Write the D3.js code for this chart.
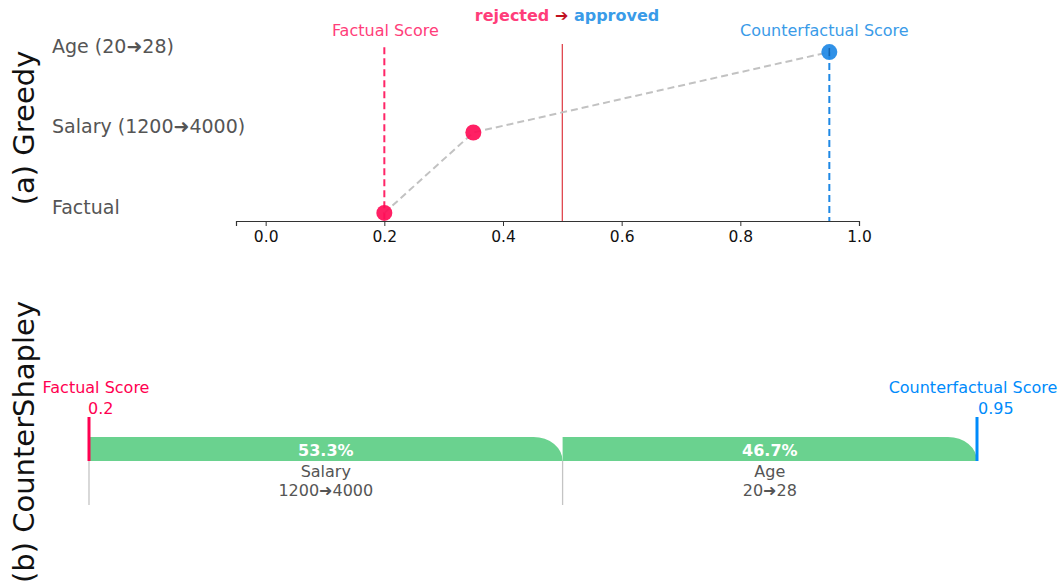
<!DOCTYPE html>
<html><head><meta charset="utf-8">
<script src="https://cdn.jsdelivr.net/npm/d3@7"></script>
<style>body{margin:0;background:#fff}text{font-family:"DejaVu Sans",sans-serif}</style>
</head><body>
<svg id="c" width="1059" height="585"></svg>
<script>
// Greedy path data
const greedySteps = ["Factual", "Salary (1200\u279C4000)", "Age (20\u279C28)"];
const greedyScores = [0.2, 0.35, 0.95];
const xTicks = [0.0, 0.2, 0.4, 0.6, 0.8, 1.0];
const threshold = 0.5;
const factualScore = 0.2;
const counterfactualScore = 0.95;
// CounterShapley data
const shapFeatures = ["Salary", "Age"];
const shapChanges = ["1200\u279C4000", "20\u279C28"];
const shapValues = [0.4, 0.35];
const shapPercents = ["53.3%", "46.7%"];

const svg = d3.select("#c");
const pink = "#ff0d57", blue = "#1e88e5", green = "#6ad28f";

// ---------- Panel (a) ----------
const x = d3.scaleLinear().domain([-0.05, 1.0]).range([236, 859]);
const y = d3.scaleLinear().domain([-0.1, 2.1]).range([221, 44]);

svg.append("text").attr("transform", "translate(34,128) rotate(-90)")
  .attr("text-anchor", "middle").attr("font-size", 29).attr("fill", "#111").text("(a) Greedy");

const ax = svg.append("g").attr("transform", "translate(0,221)")
  .call(d3.axisBottom(x).tickValues(xTicks).tickFormat(d3.format(".1f")).tickSize(5).tickPadding(5));
ax.select(".domain").attr("stroke", "#333").attr("stroke-width", 1.2);
ax.selectAll(".tick line").attr("stroke", "#333");
ax.selectAll("text").attr("font-size", 15.5).attr("fill", "#111").attr("font-family", "DejaVu Sans");

greedySteps.forEach((s, i) => {
  svg.append("text").attr("x", 52).attr("y", y(i) - 6).attr("dy", "0.35em")
    .attr("font-size", 19).attr("fill", "#555").text(s);
});

// threshold
svg.append("line").attr("x1", x(threshold)).attr("x2", x(threshold))
  .attr("y1", y(2.1)).attr("y2", y(-0.1)).attr("stroke", "#e0474f").attr("stroke-width", 1.3);

// factual dashed
svg.append("line").attr("x1", x(factualScore)).attr("x2", x(factualScore))
  .attr("y1", y(2.06)).attr("y2", y(-0.1)).attr("stroke", pink).attr("stroke-opacity", 0.9)
  .attr("stroke-width", 2).attr("stroke-dasharray", "7,4");
// counterfactual dashed
svg.append("line").attr("x1", x(counterfactualScore)).attr("x2", x(counterfactualScore))
  .attr("y1", y(2)).attr("y2", y(-0.1)).attr("stroke", blue)
  .attr("stroke-width", 2).attr("stroke-dasharray", "7,4");

// path
const line = d3.line().x(d => x(d[0])).y(d => y(d[1]));
svg.append("path").datum(greedyScores.map((v, i) => [v, i])).attr("d", line)
  .attr("fill", "none").attr("stroke", "#c2c2c2").attr("stroke-width", 2).attr("stroke-dasharray", "7,4");

greedyScores.forEach((v, i) => {
  svg.append("circle").attr("cx", x(v)).attr("cy", y(i)).attr("r", 8)
    .attr("fill", v >= threshold ? blue : pink).attr("fill-opacity", 0.92);
});
svg.append("line").attr("x1", x(counterfactualScore)).attr("x2", x(counterfactualScore))
  .attr("y1", y(2) - 4).attr("y2", y(2) + 4).attr("stroke", "#1565b0").attr("stroke-width", 1.5);

svg.append("text").attr("x", x(factualScore) + 1).attr("y", 30).attr("dy", "0.35em")
  .attr("text-anchor", "middle").attr("font-size", 16).attr("fill", "#ff3d7a").text("Factual Score");
svg.append("text").attr("x", x(counterfactualScore) - 5).attr("y", 30).attr("dy", "0.35em")
  .attr("text-anchor", "middle").attr("font-size", 16).attr("fill", "#3a9be8").text("Counterfactual Score");

const title = svg.append("text").attr("x", 567).attr("y", 15).attr("dy", "0.35em")
  .attr("text-anchor", "middle").attr("font-size", 16).attr("font-weight", "bold");
title.append("tspan").attr("fill", "#ff3d7a").text("rejected ");
title.append("tspan").attr("fill", "#c0101e").text("\u2794 ");
title.append("tspan").attr("fill", "#3a9be8").text("approved");

// ---------- Panel (b) ----------
const xb = d3.scaleLinear().domain([factualScore, counterfactualScore]).range([89, 977]);
const barTop = 437, barH = 24, barBot = barTop + barH;

svg.append("text").attr("transform", "translate(34,442) rotate(-90)")
  .attr("text-anchor", "middle").attr("font-size", 29).attr("fill", "#111").text("(b) CounterShapley");

let cum = factualScore;
shapValues.forEach((v, i) => {
  const x0 = xb(cum), x1 = xb(cum + v);
  const rx = 29, ry = barH;
  const p = `M${x0},${barTop} L${x1 - rx},${barTop} A${rx},${ry} 0 0 1 ${x1},${barBot} L${x0},${barBot} Z`;
  svg.append("path").attr("d", p).attr("fill", green);
  const cx = (x0 + x1) / 2;
  svg.append("text").attr("x", cx).attr("y", barTop + barH / 2 + 1).attr("dy", "0.35em")
    .attr("text-anchor", "middle").attr("font-size", 16).attr("font-weight", "bold")
    .attr("fill", "#fff").text(shapPercents[i]);
  svg.append("text").attr("x", cx).attr("y", 471).attr("dy", "0.35em")
    .attr("text-anchor", "middle").attr("font-size", 16).attr("fill", "#555").text(shapFeatures[i]);
  svg.append("text").attr("x", cx).attr("y", 490).attr("dy", "0.35em")
    .attr("text-anchor", "middle").attr("font-size", 16).attr("fill", "#555").text(shapChanges[i]);
  svg.append("line").attr("x1", x0).attr("x2", x0).attr("y1", barBot).attr("y2", 505)
    .attr("stroke", "#c4c4c4").attr("stroke-width", 1.3);
  cum += v;
});

svg.append("line").attr("x1", xb(factualScore)).attr("x2", xb(factualScore))
  .attr("y1", 417).attr("y2", barBot).attr("stroke", "#ff0051").attr("stroke-width", 3);
svg.append("line").attr("x1", xb(counterfactualScore)).attr("x2", xb(counterfactualScore))
  .attr("y1", 417).attr("y2", barBot).attr("stroke", "#008bfb").attr("stroke-width", 3);

svg.append("text").attr("x", 96).attr("y", 387).attr("dy", "0.35em").attr("text-anchor", "middle")
  .attr("font-size", 16).attr("fill", "#ff0051").text("Factual Score");
svg.append("text").attr("x", 88).attr("y", 408).attr("dy", "0.35em")
  .attr("font-size", 16).attr("fill", "#ff0051").text(String(factualScore));
svg.append("text").attr("x", 973).attr("y", 387).attr("dy", "0.35em").attr("text-anchor", "middle")
  .attr("font-size", 16).attr("fill", "#008bfb").text("Counterfactual Score");
svg.append("text").attr("x", 978).attr("y", 408).attr("dy", "0.35em")
  .attr("font-size", 16).attr("fill", "#008bfb").text(String(counterfactualScore));
</script>
</body></html>
